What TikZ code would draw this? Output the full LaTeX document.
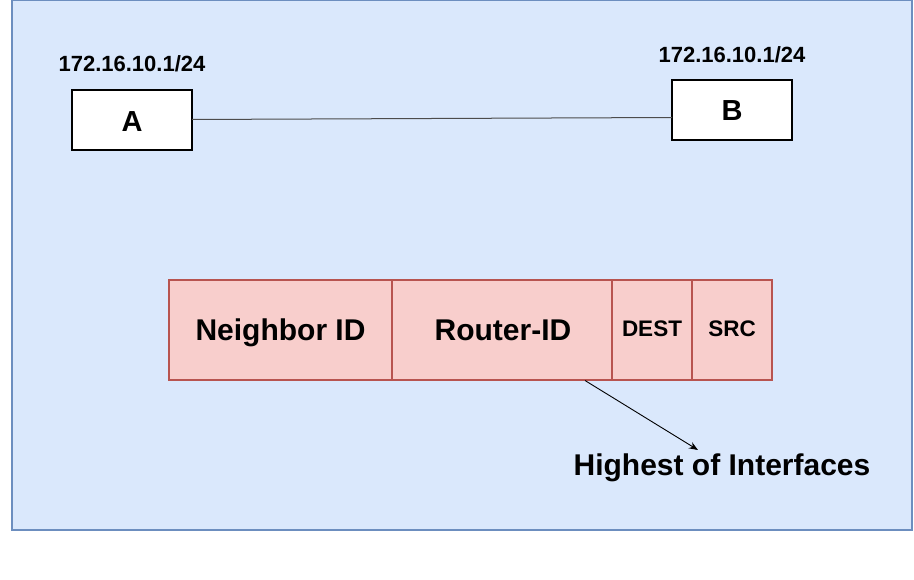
\documentclass[tikz,border=0pt]{standalone}
\usepackage{fontspec}
\setmainfont{Liberation Sans}
\usetikzlibrary{arrows.meta}
\definecolor{bgfill}{HTML}{DAE8FC}
\definecolor{bgline}{HTML}{6C8EBF}
\definecolor{redfill}{HTML}{F8CECC}
\definecolor{redline}{HTML}{B85450}
\tikzset{
  x=1pt, y=-1pt,
  router/.style={draw=black, fill=white, line width=1.2pt},
  field/.style={draw=redline, fill=redfill, line width=1.2pt},
  lbl/.style={inner sep=0pt, anchor=base, font=\bfseries},
  big/.style={font=\bfseries\fontsize{30}{34}\selectfont},
  small/.style={font=\bfseries\fontsize{22.5}{26}\selectfont},
}
\begin{document}
\begin{tikzpicture}
\useasboundingbox (0,0) rectangle (914,580);
\draw[fill=bgfill, draw=bgline, line width=1.2pt] (12,0.6) rectangle (912,530);
% routers
\draw[router] (72,90) rectangle (192,150);
\draw[router] (672,80) rectangle (792,140);
\node[lbl, font=\bfseries\fontsize{29}{32}\selectfont] (At) at (132,131.5) {A};
\node[lbl, font=\bfseries\fontsize{29}{32}\selectfont] (Bt) at (732,120.5) {B};
\node[lbl, font=\bfseries\fontsize{22}{26}\selectfont] (ipA) at (132,72) {172.16.10.1/24};
\node[lbl, font=\bfseries\fontsize{22}{26}\selectfont] (ipB) at (732,63) {172.16.10.1/24};
\coordinate (Ar) at (192,119.5);
\coordinate (Bl) at (672,117.5);
\draw[line width=1pt, black!70] (Ar) -- (Bl);
% fields
\draw[field] (169,280) rectangle (392,380);
\draw[field] (392,280) rectangle (612,380);
\draw[field] (612,280) rectangle (692,380);
\draw[field] (692,280) rectangle (772,380);
\node[lbl, big] (nid) at (280.5,341) {Neighbor ID};
\node[lbl, big] (rid) at (503,341) {Router-ID};
\node[lbl, small] (dest) at (652,337) {DEST};
\node[lbl, small] (src) at (732,337) {SRC};
\node[lbl, big] (hi) at (722,475) {Highest of Interfaces};
\coordinate (s) at (585,380.5);
\coordinate (e) at (698,450);
\draw[line width=0.9pt, -{Stealth[length=9pt,width=7pt]}] (s) -- (e);
\end{tikzpicture}
\end{document}
